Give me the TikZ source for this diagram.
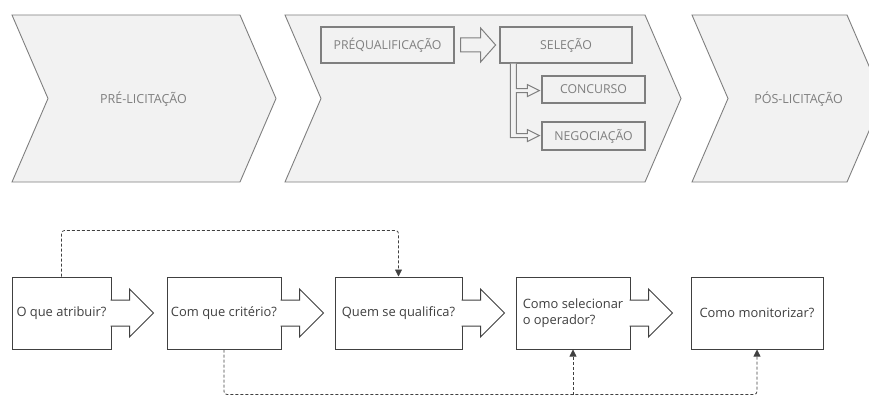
\documentclass[tikz,border=0pt]{standalone}
\usepackage{fontspec}
\setmainfont{Open Sans}
\usetikzlibrary{calc,arrows.meta}
\definecolor{chevfill}{HTML}{F2F2F2}
\definecolor{chevline}{HTML}{7F7F7F}
\definecolor{qline}{HTML}{404040}
\begin{document}
\begin{tikzpicture}[x=1pt,y=-1pt,
  chevron/.style={fill=chevfill,draw=chevline,line width=0.9pt},
  phase/.style={text=chevline,font=\fontsize{12.5}{15}\selectfont},
  stage/.style={draw=chevline,line width=1.2pt,fill=chevfill,text=chevline,inner sep=0pt,font=\fontsize{12.3}{14}\selectfont},
  question/.style={draw=qline,line width=1pt,fill=white,text=qline,align=left,inner sep=1pt,minimum height=72pt,font=\fontsize{12.9}{16}\selectfont},
  bigarrow/.style={draw=qline,line width=1pt,fill=white},
  hollow/.style={draw=chevline,line width=1pt,fill=chevfill},
  link/.style={draw=qline,line width=0.8pt,dash pattern=on 3pt off 2pt,rounded corners=3pt,-{Triangle[length=7pt,width=7pt]}}]
\useasboundingbox (0,0) rectangle (869,396);
\clip (0,0) rectangle (869,396);
%\draw[very thin,color=gray,step=10] (0,0) grid (869,396);
\draw[chevron] (12,15) -- (240,15) -- (276,98.5) -- (240,182) -- (12,182) -- (48,98.5) -- cycle;
\draw[chevron] (285,15) -- (645,15) -- (681,98.5) -- (645,182) -- (285,182) -- (321,98.5) -- cycle;
\draw[chevron] (692,15) -- (847,15) -- (883,98.5) -- (847,182) -- (692,182) -- (728,98.5) -- cycle;
\node[phase] (pre) at (143.5,99) {PRÉ-LICITAÇÃO};
\node[phase] (pos) at (798.5,99) {PÓS-LICITAÇÃO};

\node[stage,minimum width=133pt,minimum height=36pt] (pq) at (387.5,45) {PRÉQUALIFICAÇÃO};
\node[stage,minimum width=132pt,minimum height=36pt] (sel) at (566,45) {SELEÇÃO};
\node[stage,minimum width=103pt,minimum height=27pt] (conc) at (593.5,89.5) {CONCURSO};
\node[stage,minimum width=103pt,minimum height=28pt] (neg) at (593.5,136) {NEGOCIAÇÃO};
\filldraw[hollow] ($(pq.east)+(6,-7)$) -- ++(20,0) -- ++(0,-10) -- ++(15,17) -- ++(-15,17) -- ++(0,-10) -- ++(-20,0) -- cycle;
\coordinate (bl) at ($(sel.south west)+(11,0)$);
\coordinate (br) at ($(sel.south west)+(17,0)$);
\filldraw[hollow] (bl) -- ++(0,74) -- ++(17,0) -- ++(0,4) -- ++(12,-6) -- ++(-12,-6) -- ++(0,4) -- ++(-11,0)
  -- ++(0,-41) -- ++(11,0) -- ++(0,4) -- ++(12,-6) -- ++(-12,-6) -- ++(0,4) -- ++(-11,0) -- (br);

\node[question,minimum width=99pt] (q1) at (61.5,313) {O que atribuir?};
\node[question,minimum width=114pt] (q2) at (224,313) {Com que critério?};
\node[question,minimum width=127pt] (q3) at (398.5,313) {Quem se qualifica?};
\node[question,minimum width=114pt] (q4) at (573,313) {Como selecionar\\o operador?};
\node[question,minimum width=132pt] (q5) at (757,313) {Como monitorizar?};
\foreach \q in {q1,q2,q3,q4}
  \filldraw[bigarrow] ($(\q.east)+(-1,-13)$) -- ++(19,0) -- ++(0,-11) -- ++(24,24) -- ++(-24,24) -- ++(0,-11) -- ++(-19,0);
\coordinate (bot) at ($(q2.south)+(0,45)$);
\draw[link] (q1.north) -- ++(0,-46) -| (q3.north);
\draw[link] (q2.south) -- (bot) -| (q5.south);
\draw[link] (q4.south |- bot) -- (q4.south);
\end{tikzpicture}
\end{document}
